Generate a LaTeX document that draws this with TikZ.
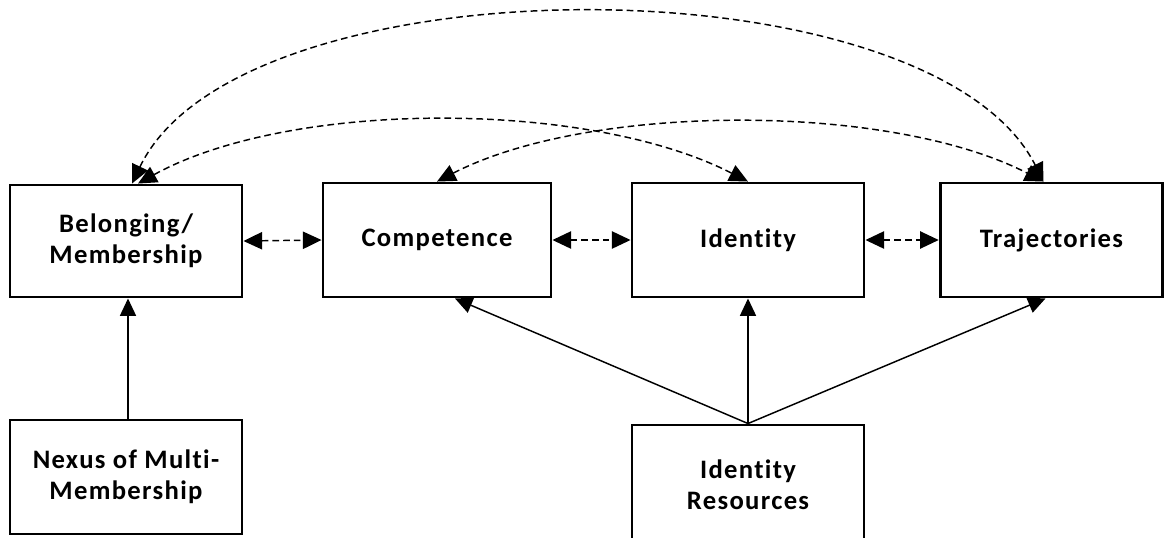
\documentclass[tikz,border=0pt]{standalone}
\usepackage{fontspec}
\setmainfont{Carlito}[LetterSpace=5,Ligatures={NoCommon}]
\usetikzlibrary{arrows.meta}
\begin{document}
\begin{tikzpicture}[x=0.75pt,y=-0.75pt,
  box/.style={draw, line width=2.2pt, align=center, inner sep=0pt,
    font=\bfseries\fontsize{20}{23.5}\selectfont},
  tip/.style={-{Triangle[length=13pt,width=12pt]}},
  conn/.style={line width=1.1pt},
  dsh/.style={line width=1.1pt, dash pattern=on 5pt off 3pt, {Triangle[length=14pt,width=13pt]}-{Triangle[length=14pt,width=13pt]}}
]
\useasboundingbox (0,0) rectangle (1165,537);
\node[box, minimum width=174pt, minimum height=84pt] (bel) at (126,241) {Belonging/\\Membership};
\node[box, minimum width=171pt, minimum height=85.5pt] (comp) at (437,240) {Competence};
\node[box, minimum width=174pt, minimum height=85.5pt] (iden) at (748,240) {Identity};
\node[box, minimum width=167pt, minimum height=85.5pt] (traj) at (1051.5,240) {Trajectories};
\node[box, minimum width=174pt, minimum height=85.5pt] (nex) at (126,477) {Nexus of Multi-\\Membership};
\node[box, minimum width=174pt, minimum height=90pt] (res) at (748,485) {Identity\\Resources};

% solid arrows
\draw[conn, tip] ([xshift=1.5pt]nex.north) -- ([xshift=1.5pt]bel.south);
\draw[conn, tip] (res.north) -- ([xshift=13.5pt]comp.south);
\draw[conn, tip] (res.north) -- (iden.south);
\draw[conn, tip] (res.north) -- ([xshift=-4.5pt]traj.south);

% horizontal dashed double arrows
\draw[dsh] (bel.east) -- (comp.west);
\draw[dsh] (comp.east) -- (iden.west);
\draw[dsh] (iden.east) -- (traj.west);

% curved dashed double arrows
\draw[dsh] ([xshift=4.5pt]bel.north) .. controls +(108,-226) and +(-113,-224) .. ([xshift=-6pt]traj.north);
\draw[dsh] ([xshift=9pt]bel.north) .. controls +(152,-84) and +(-160,-82) .. (iden.north);
\draw[dsh] (comp.north) .. controls +(153,-79) and +(-153,-79) .. ([xshift=-6pt]traj.north);
\end{tikzpicture}
\end{document}
